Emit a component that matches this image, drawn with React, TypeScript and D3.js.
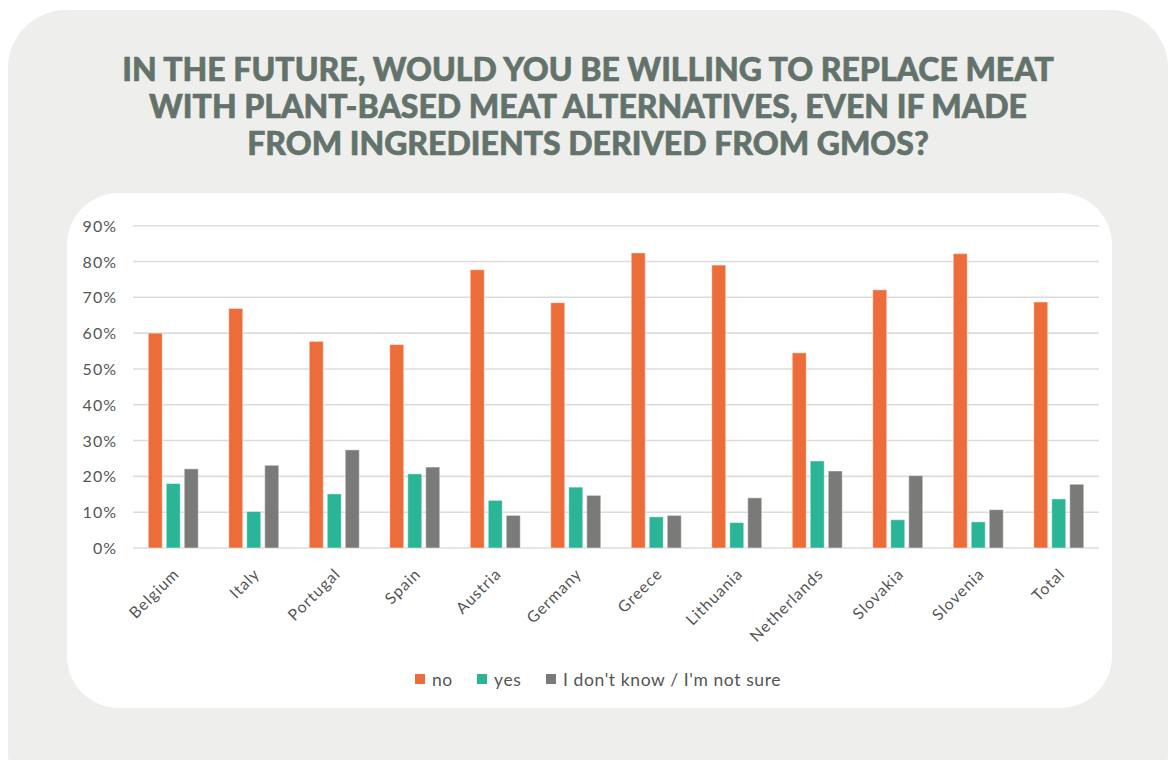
import React from "react";
import * as d3 from "d3";

const categories = ["Belgium", "Italy", "Portugal", "Spain", "Austria", "Germany", "Greece", "Lithuania", "Netherlands", "Slovakia", "Slovenia", "Total"];
const seriesNames = ["no", "yes", "I don't know / I'm not sure"];
const noValues = [60.0, 66.9, 57.7, 56.8, 77.7, 68.5, 82.4, 79.0, 54.5, 72.1, 82.2, 68.7];
const yesValues = [18.0, 10.2, 15.1, 20.7, 13.3, 17.0, 8.7, 7.1, 24.3, 7.9, 7.3, 13.7];
const unsureValues = [22.1, 23.1, 27.4, 22.6, 9.1, 14.7, 9.1, 14.0, 21.5, 20.2, 10.7, 17.8];
const yTicks = [0, 10, 20, 30, 40, 50, 60, 70, 80, 90];
const titleLines = [
  "IN THE FUTURE, WOULD YOU BE WILLING TO REPLACE MEAT",
  "WITH PLANT-BASED MEAT ALTERNATIVES, EVEN IF MADE",
  "FROM INGREDIENTS DERIVED FROM GMOS?",
];
const colors = ["#ED6D3A", "#2AB596", "#7A7A78"];

export default function App() {
  const W = 1168, H = 760;
  const plotL = 133, plotR = 1099, plotT = 225.7, plotB = 548;
  const x = d3.scaleBand<string>().domain(categories).range([plotL, plotR]).padding(0);
  const y = d3.scaleLinear().domain([0, 90]).range([plotB, plotT]);
  const series = [noValues, yesValues, unsureValues];
  const barW = 14, gap = 4;
  const groupW = barW * 3 + gap * 2;
  const font = "'Lato', 'Open Sans', sans-serif";

  const legendItems = [
    { x: 415, label: seriesNames[0] },
    { x: 477, label: seriesNames[1] },
    { x: 546, label: seriesNames[2] },
  ];

  return (
    <svg width={W} height={H} style={{ position: "absolute", left: 0, top: 0, display: "block" }}>
      <rect x={0} y={0} width={W} height={H} fill="#ffffff" />
      <rect x={8} y={10} width={1160} height={800} rx={58} ry={58} fill="#EEEEEC" />
      <g fontFamily={font} fontWeight={900} fontSize={32} fill="#63736B" stroke="#63736B" strokeWidth={0.6} textAnchor="middle">
        {titleLines.map((t, i) => (
          <text key={i} x={588} y={80.5 + i * 37}>{t}</text>
        ))}
      </g>
      <rect x={67} y={193} width={1045} height={515} rx={52} ry={52} fill="#ffffff" />
      <g>
        {yTicks.map((t) => (
          <g key={t}>
            <line x1={plotL} x2={plotR} y1={y(t)} y2={y(t)} stroke="#DCDCDC" strokeWidth={1.6} />
            <text x={117} y={y(t) + 6} textAnchor="end" fontFamily={font} fontSize={16} letterSpacing={1} fill="#555555">{t}%</text>
          </g>
        ))}
      </g>
      <g>
        {categories.map((c, ci) => {
          const cx = (x(c) as number) + x.bandwidth() / 2;
          const start = cx - groupW / 2;
          return (
            <g key={c}>
              {series.map((vals, si) => (
                <rect
                  key={si}
                  x={start + si * (barW + gap)}
                  y={y(vals[ci])}
                  width={barW}
                  height={plotB - y(vals[ci])}
                  fill={colors[si]}
                  stroke="#ffffff"
                  strokeOpacity={0.45}
                  strokeWidth={1}
                />
              ))}
              <text
                transform={`translate(${cx + 7},${575}) rotate(-45)`}
                textAnchor="end"
                fontFamily={font}
                fontSize={15.8}
                letterSpacing={1}
                fill="#555555"
              >
                {c}
              </text>
            </g>
          );
        })}
      </g>
      <g fontFamily={font} fontSize={17.5} letterSpacing={0.6} fill="#555555">
        {legendItems.map((it, i) => (
          <g key={i}>
            <rect x={it.x} y={674} width={10} height={10} fill={colors[i]} />
            <text x={it.x + 17} y={686}>{it.label}</text>
          </g>
        ))}
      </g>
    </svg>
  );
}
